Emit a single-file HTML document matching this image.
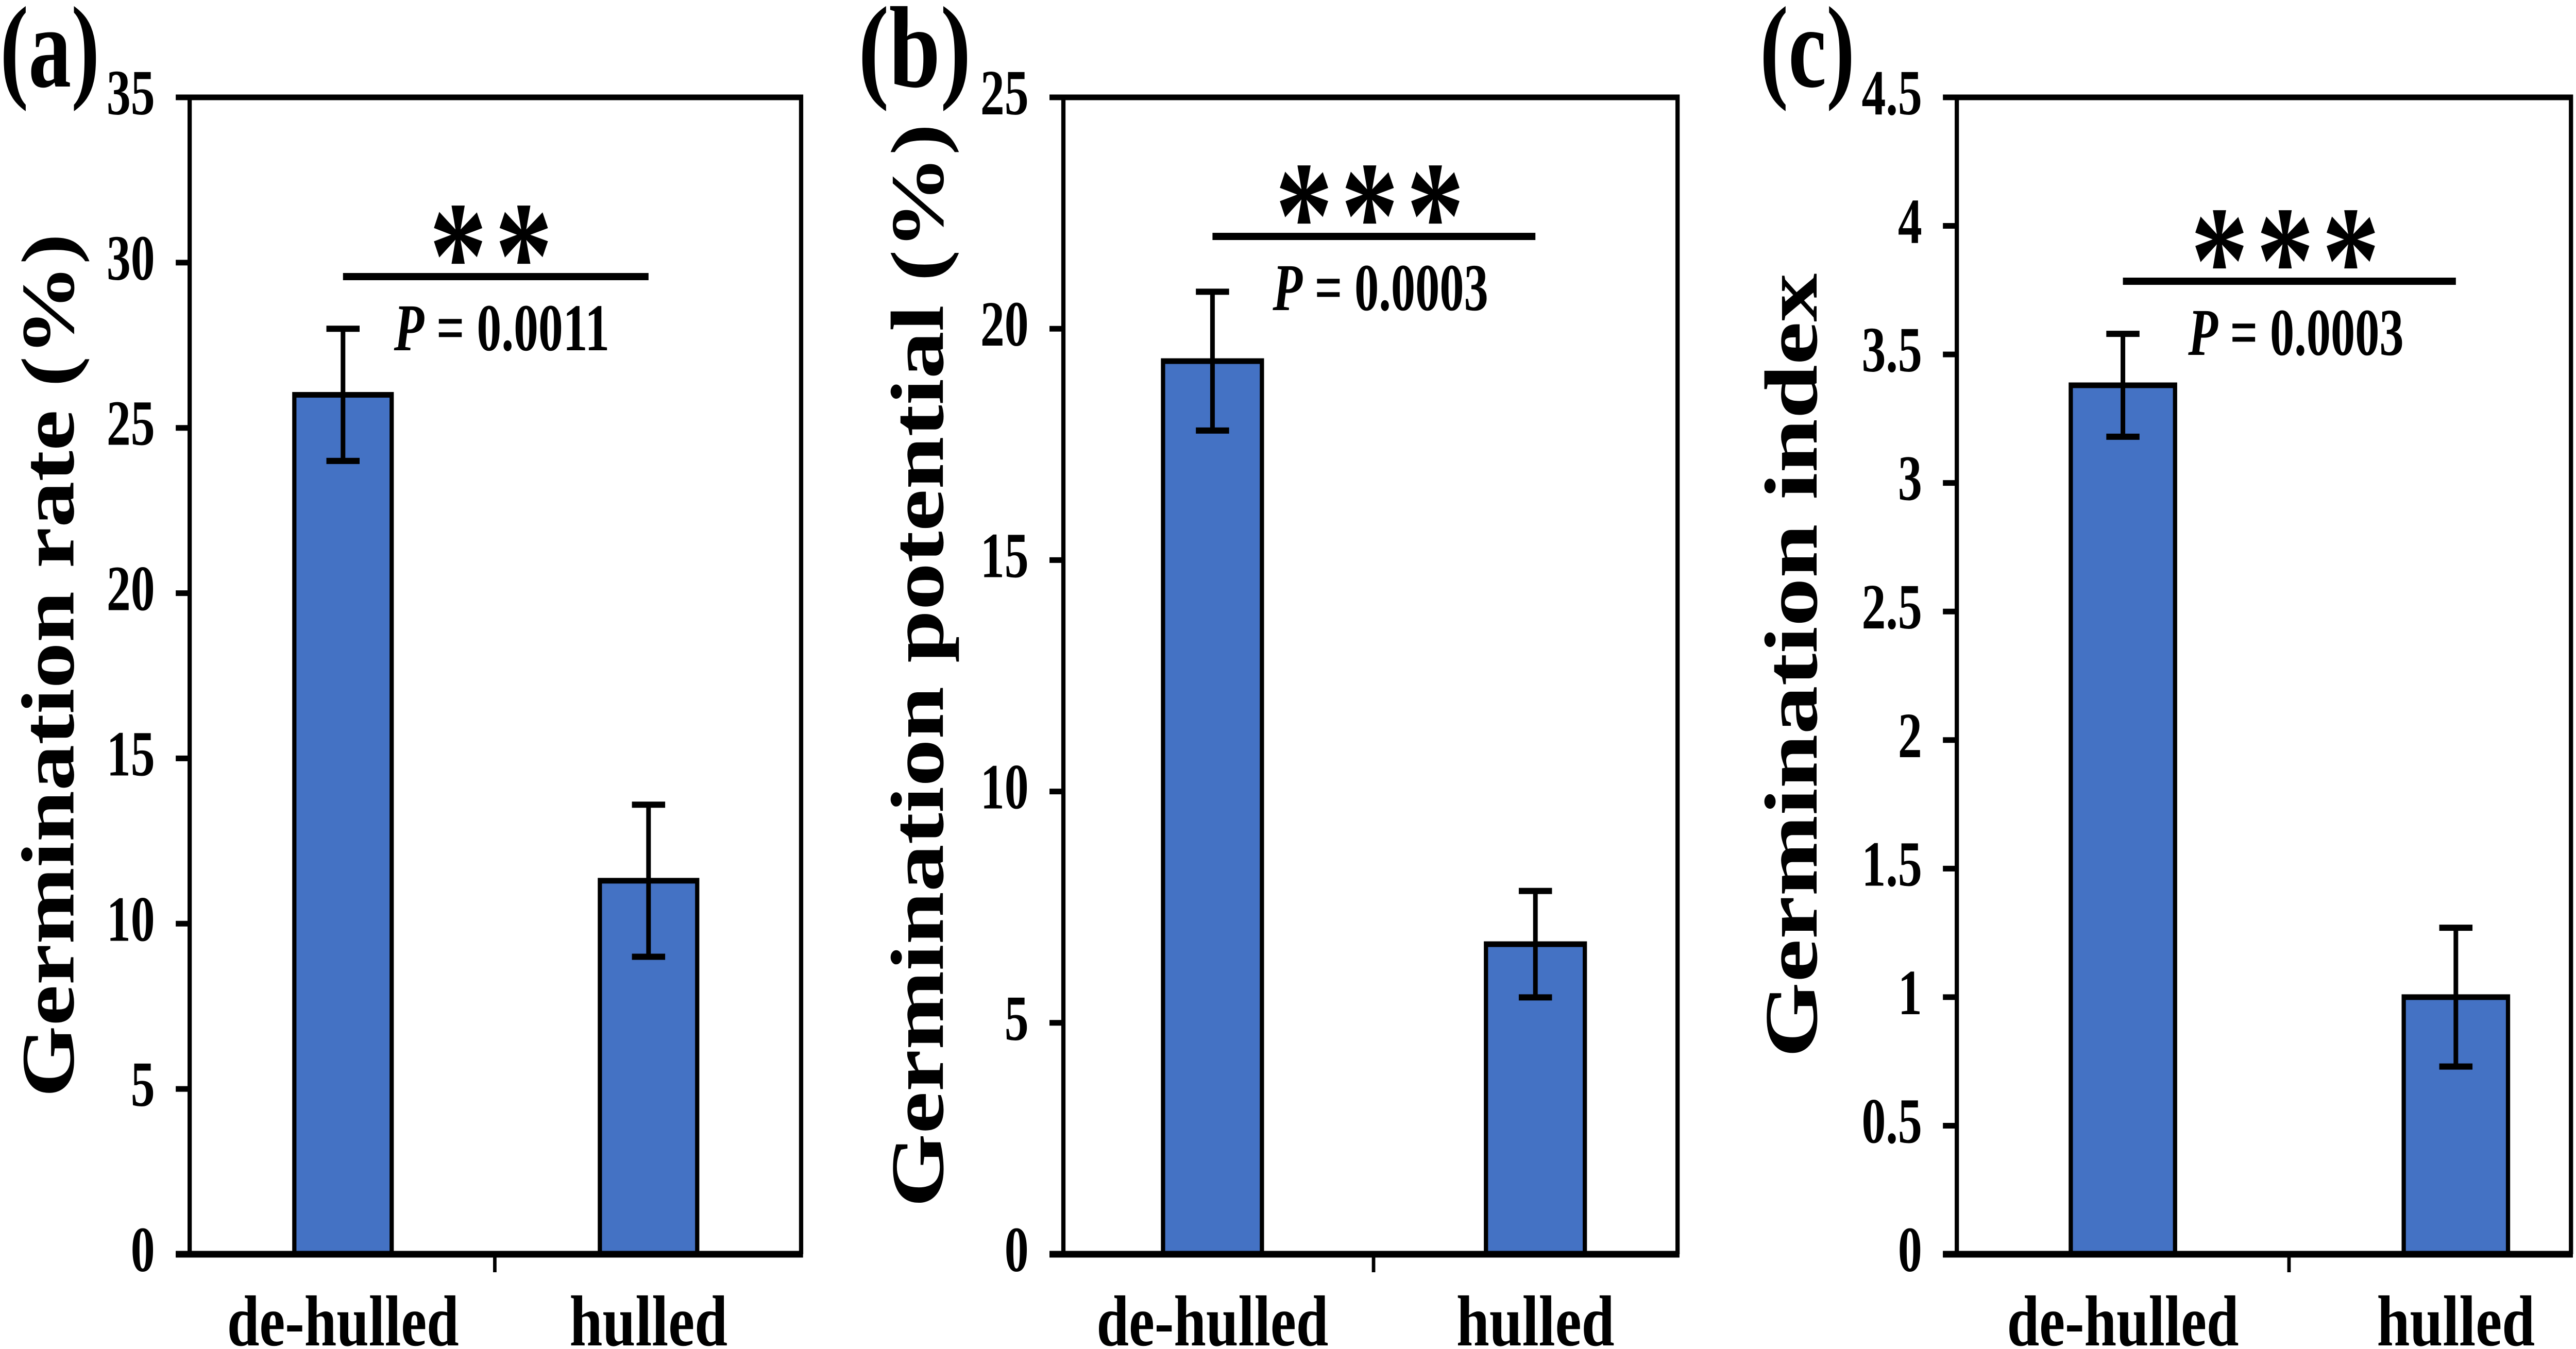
<!DOCTYPE html>
<html><head><meta charset="utf-8"><style>
html,body{margin:0;padding:0;background:#fff;width:100%;height:100%;overflow:hidden;}
svg{display:block;overflow:hidden;width:100vw;height:100vh;}
text{font-family:"Liberation Serif",serif;font-weight:bold;fill:#000;}
</style></head>
<body>
<svg id="fig" viewBox="0 0 6669 2619" preserveAspectRatio="none" xmlns="http://www.w3.org/2000/svg"></svg>
<script>
const categories = ["de-hulled", "hulled"];
const rateValues = [26.0, 11.3];
const rateErrors = [2.0, 2.3];
const potentialValues = [19.3, 6.7];
const potentialErrors = [1.5, 1.15];
const indexValues = [3.38, 1.0];
const indexErrors = [0.2, 0.27];
const rateTicks = ["0","5","10","15","20","25","30","35"];
const potentialTicks = ["0","5","10","15","20","25"];
const indexTicks = ["0","0.5","1","1.5","2","2.5","3","3.5","4","4.5"];
const rateP = "0.0011", potentialP = "0.0003", indexP = "0.0003";
const rateStars = "**", potentialStars = "***", indexStars = "***";

const NS = "http://www.w3.org/2000/svg";
const svg = document.getElementById("fig");
function mk(tag, attrs, parent) {
  const e = document.createElementNS(NS, tag);
  for (const k in attrs) e.setAttribute(k, attrs[k]);
  (parent || svg).appendChild(e);
  return e;
}
const TOP = 189, BOT = 2435;

const panels = [
  {id:"a", label:"(a)", labelX:0, labelLen:258, left:491, right:2074, centers:[888,1679], mid:1281, barW:252,
   vals:rateValues, errs:rateErrors, ticks:rateTicks, title:"Germination rate (%)", titleX:190, titleLen:1677,
   sigY:537, stars:rateStars, p:rateP},
  {id:"b", label:"(b)", labelX:2222, labelLen:292, left:2753, right:4343, centers:[3139,3975], mid:3556, barW:256,
   vals:potentialValues, errs:potentialErrors, ticks:potentialTicks, title:"Germination potential (%)", titleX:2441, titleLen:2104,
   sigY:459, stars:potentialStars, p:potentialP},
  {id:"c", label:"(c)", labelX:4556, labelLen:246, left:5066, right:6656, centers:[5496,6358], mid:5926, barW:270,
   vals:indexValues, errs:indexErrors, ticks:indexTicks, title:"Germination index", titleX:4703, titleLen:1523,
   sigY:546, stars:indexStars, p:indexP}
];

panels.forEach(pn => {
  const g = mk("g", {});
  
  
  const maxV = parseFloat(pn.ticks[pn.ticks.length-1]);
  const y = v => BOT - (v / maxV) * (BOT - TOP);

  const pl = mk("text", {x:pn.labelX, y:168, "font-size":225, textLength:pn.labelLen, lengthAdjust:"spacingAndGlyphs"}, g);
  pl.textContent = pn.label;
  
  

  pn.vals.forEach((v, i) => {
    const cx = pn.centers[i];
    const r = mk("rect", {x:cx - pn.barW/2, y:y(v), width:pn.barW, height:BOT - y(v), fill:"#4472C4", stroke:"#000", "stroke-width":11}, g);
    
    
    const e = pn.errs[i];
    const eg = mk("g", {stroke:"#000", "stroke-width":12}, g);
    
    
    mk("line", {x1:cx, x2:cx, y1:y(v+e), y2:y(v-e)}, eg);
    mk("line", {x1:cx-43, x2:cx+43, y1:y(v+e), y2:y(v+e)}, eg);
    mk("line", {x1:cx-43, x2:cx+43, y1:y(v-e), y2:y(v-e)}, eg);
  });

  const box = mk("path", {d:`M${pn.left},${BOT} L${pn.left},${TOP} L${pn.right},${TOP} L${pn.right},${BOT}`, fill:"none", stroke:"#000", "stroke-width":11}, g);
  
  
  const xa = mk("line", {x1:pn.left-36, x2:pn.right+5, y1:BOT, y2:BOT, stroke:"#000", "stroke-width":13}, g);
  
  
  const mt = mk("line", {x1:pn.mid, x2:pn.mid, y1:BOT, y2:2470, stroke:"#000", "stroke-width":9}, g);
  
  

  pn.ticks.forEach(t => {
    const ty = y(parseFloat(t));
    const tl = mk("line", {x1:pn.left-36, x2:pn.left, y1:ty, y2:ty, stroke:"#000", "stroke-width":11}, g);
    
    
    const tt = mk("text", {x:pn.left-90, y:ty+33, "font-size":125, "text-anchor":"end"}, g);
    tt.textContent = t;
    
    
  });

  const yt = mk("text", {x:0, y:0, "font-size":195, "text-anchor":"middle", textLength:pn.titleLen, lengthAdjust:"spacingAndGlyphs",
    transform:`translate(${pn.titleX},1292) rotate(-90)`}, g);
  yt.textContent = pn.title;
  
  

  categories.forEach((c, i) => {
    const xl = mk("text", {x:pn.centers[i], y:2612, "font-size":140, "text-anchor":"middle",
      textLength:(c === "de-hulled" ? 600 : 409), lengthAdjust:"spacingAndGlyphs"}, g);
    xl.textContent = c;
    
    
  });

  const sl = mk("line", {x1:pn.centers[0], x2:pn.centers[1], y1:pn.sigY, y2:pn.sigY, stroke:"#000", "stroke-width":14}, g);
  
  
  const st = mk("text", {x:pn.mid, y:pn.sigY + 60, "font-size":300, "text-anchor":"middle", "letter-spacing":20}, g);
  st.textContent = pn.stars;
  
  
  const pt = mk("text", {x:pn.mid + 18, y:pn.sigY + 143, "font-size":130, "text-anchor":"middle", textLength:558, lengthAdjust:"spacingAndGlyphs"}, g);
  
  
  const ts = mk("tspan", {"font-style":"italic"}, pt);
  ts.textContent = "P";
  const ts2 = mk("tspan", {}, pt);
  ts2.textContent = " = " + pn.p;
});
</script>
</body></html>
